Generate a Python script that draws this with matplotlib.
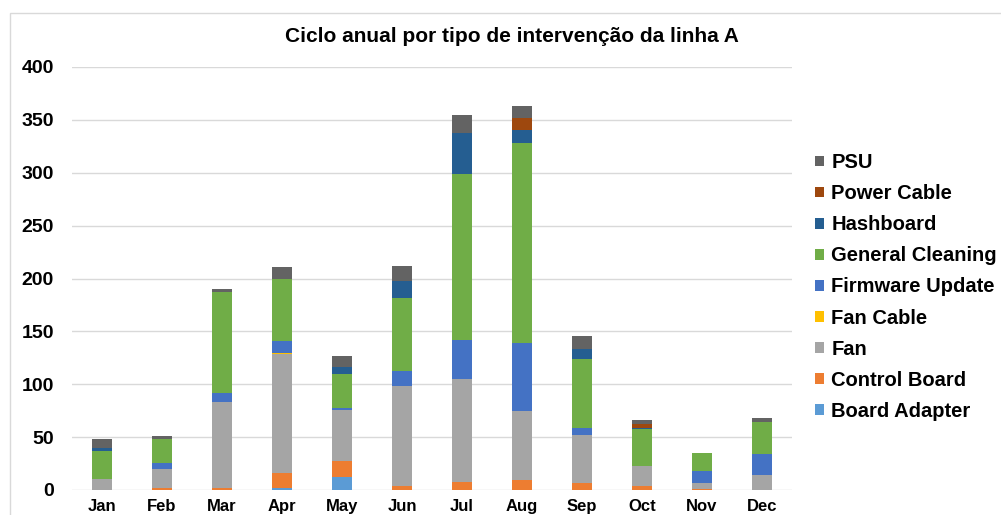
import numpy as np
import matplotlib.pyplot as plt
from matplotlib.patches import Rectangle

plt.rcParams['font.family'] = ['Liberation Sans', 'DejaVu Sans']
plt.rcParams['font.weight'] = 'bold'

months = ["Jan", "Feb", "Mar", "Apr", "May", "Jun",
          "Jul", "Aug", "Sep", "Oct", "Nov", "Dec"]

# stacked from the bottom up
board_adapter = [0, 0, 0, 2, 12, 0, 0, 0, 0, 0, 0, 0]
control_board = [0, 2, 2, 14, 15, 4, 8, 9, 7, 4, 1, 0]
fan = [10, 18, 81, 113, 49, 94, 97, 66, 45, 19, 6, 14]
fan_cable = [0, 0, 0, 1, 0, 0, 0, 0, 0, 0, 0, 0]
firmware_update = [0, 6, 9, 11, 2, 15, 37, 64, 7, 0, 11, 20]
general_cleaning = [27, 22, 95, 59, 32, 69, 157, 189, 65, 35, 17, 30]
hashboard = [3, 0, 0, 0, 6, 16, 39, 12, 9, 1, 0, 0]
power_cable = [0, 0, 0, 0, 0, 0, 0, 12, 0, 3, 0, 0]
psu = [8, 3, 3, 11, 11, 14, 17, 11, 13, 4, 0, 4]

series = [
    ("Board Adapter", board_adapter, "#5B9BD5"),
    ("Control Board", control_board, "#ED7D31"),
    ("Fan", fan, "#A5A5A5"),
    ("Fan Cable", fan_cable, "#FFC000"),
    ("Firmware Update", firmware_update, "#4472C4"),
    ("General Cleaning", general_cleaning, "#70AD47"),
    ("Hashboard", hashboard, "#255E91"),
    ("Power Cable", power_cable, "#9E480E"),
    ("PSU", psu, "#636363"),
]

fig = plt.figure(figsize=(10.01, 5.15), dpi=100)
ax = fig.add_axes([72 / 1001, 25 / 515, 720 / 1001, 423 / 515])

x = np.arange(len(months))
bottom = np.zeros(len(months))
handles = []
for name, vals, color in series:
    vals = np.array(vals, dtype=float)
    b = ax.bar(x, vals, width=0.32, bottom=bottom, color=color,
               linewidth=0, label=name, zorder=3)
    handles.append(b)
    bottom += vals

ax.set_ylim(0, 400)
ax.set_xlim(-0.5, len(months) - 0.5)
ax.set_yticks(np.arange(0, 401, 50))
ax.set_xticks(x)
ax.set_xticklabels(months)
ax.tick_params(axis='y', length=0, pad=13, labelsize=14)
ax.tick_params(axis='x', length=0, pad=6.5, labelsize=12)
ax.grid(axis='y', color='#D9D9D9', linewidth=1, zorder=0)
for s in ax.spines.values():
    s.set_visible(False)

fig.text(512 / 1001, 1 - 37 / 515, "Ciclo anual por tipo de intervenção da linha A",
         ha='center', va='center', fontsize=15, fontweight='bold')

fig.legend(handles[::-1], [h.get_label() for h in handles[::-1]],
           loc='center left', bbox_to_anchor=(797 / 1001, 1 - 287 / 515),
           frameon=False, fontsize=14.5, handlelength=0.45, handleheight=0.45,
           handletextpad=0.35, labelspacing=0.6)

fig.patches.append(Rectangle((10 / 1001, -0.05), 1.1, 1 - 13 / 515 + 0.05,
                             transform=fig.transFigure, fill=False,
                             edgecolor='#D9D9D9', linewidth=1))

fig.savefig("out.png", dpi=100)
